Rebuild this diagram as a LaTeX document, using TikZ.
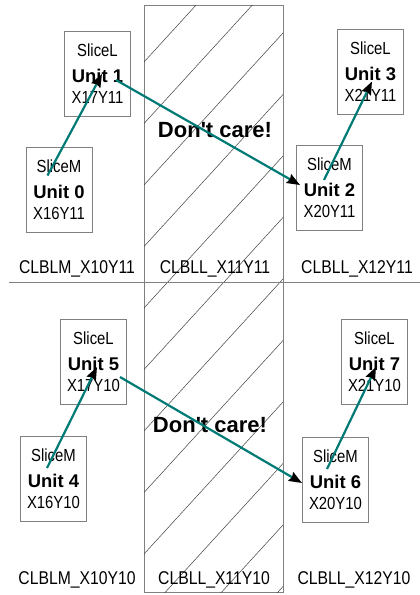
\documentclass[tikz,border=0pt]{standalone}
\usepackage{fontspec}
\setmainfont{Liberation Sans}
\newfontfamily\narrowfont[FakeStretch=0.85]{Liberation Sans}
\usetikzlibrary{arrows.meta,calc}

\definecolor{linkteal}{RGB}{0,122,116}
\definecolor{framegray}{RGB}{128,128,128}

% three lines of one slice cell: type, unit number, site
\newcommand{\slicecell}[3]{%
  {\narrowfont #1}\\[4pt]
  {\bfseries\fontsize{18.4}{22}\selectfont Unit #2}\\[-1pt]
  {\narrowfont #3}}

\begin{document}
\begin{tikzpicture}[x=1pt,y=-1pt,
    slice/.style={draw=framegray,line width=0.8pt,minimum width=66pt,
      minimum height=85pt,inner sep=0pt,align=center,
      font=\fontsize{17.5}{22}\selectfont},
    tile/.style={anchor=base,inner sep=0pt,
      font=\narrowfont\fontsize{18.5}{22}\selectfont},
    skip/.style={anchor=base,inner sep=0pt,
      font=\bfseries\fontsize{22}{26}\selectfont},
    hatch/.style={draw=black!75,line width=0.5pt},
    link/.style={draw=linkteal,line width=2.2pt,
      -{Stealth[black,length=13pt,width=10pt,inset=1.5pt]}}]
  \useasboundingbox (0,0) rectangle (420,595);

  % the unused column in the middle
  \draw[framegray,line width=0.8pt] (144,5) rectangle (283,592);
  \begin{scope}
    \clip (144,5) rectangle (283,592);
    \foreach \k in {-2,...,11}
      \draw[hatch] (144,{62+61.5*\k}) -- ++(139,-152);
  \end{scope}
  \draw[framegray,line width=0.8pt] (9,282) -- (420,282);

  % row Y11
  \node[slice] (u0) at (59,189.5) {\slicecell{SliceM}{0}{X16Y11}};
  \node[slice] (u1) at (97.5,74) {\slicecell{SliceL}{1}{X17Y11}};
  \node[slice] (u2) at (329.5,188) {\slicecell{SliceM}{2}{X20Y11}};
  \node[slice] (u3) at (370.5,72) {\slicecell{SliceL}{3}{X21Y11}};
  \node[skip] (dc1) at (215,137) {Don\textquotesingle t care!};
  \node[tile] (t0) at (77,273) {CLBLM\_X10Y11};
  \node[tile] (t1) at (215,273) {CLBLL\_X11Y11};
  \node[tile] (t2) at (357,273) {CLBLL\_X12Y11};

  % row Y10
  \node[slice] (u4) at (53.5,478.5) {\slicecell{SliceM}{4}{X16Y10}};
  \node[slice] (u5) at (93.5,361.5) {\slicecell{SliceL}{5}{X17Y10}};
  \node[slice] (u6) at (335.5,480) {\slicecell{SliceM}{6}{X20Y10}};
  \node[slice] (u7) at (374.5,361.5) {\slicecell{SliceL}{7}{X21Y10}};
  \node[skip] (dc2) at (210,432) {Don\textquotesingle t care!};
  \node[tile] (t3) at (77,584) {CLBLM\_X10Y10};
  \node[tile] (t4) at (214,584) {CLBLL\_X11Y10};
  \node[tile] (t5) at (354,584) {CLBLL\_X12Y10};

  % carry chain
  \draw[link] ($(u0)+(-11.5,-14)$) -- ($(u1)+(4.5,0)$);
  \draw[link] ($(u1)+(18.5,6)$) -- ($(u2)+(-29.5,-3)$);
  \draw[link] ($(u2)+(-5.5,-8)$) -- ($(u3)+(1.5,9.5)$);
  \draw[link] ($(u4)+(-6.5,-10.5)$) -- ($(u5)+(3.5,5.5)$);
  \draw[link] ($(u5)+(26.5,15.5)$) -- ($(u6)+(-33.5,3)$);
  \draw[link] ($(u6)+(-8.5,-11)$) -- ($(u7)+(1.5,5.5)$);
\end{tikzpicture}
\end{document}
